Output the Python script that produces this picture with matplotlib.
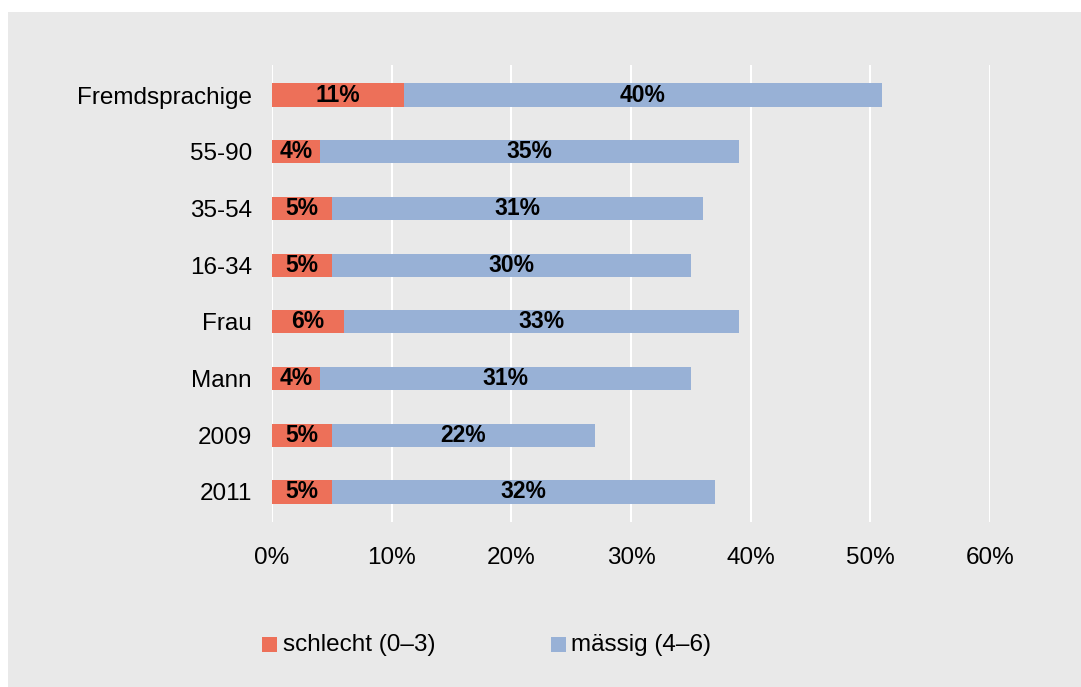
import matplotlib.pyplot as plt
from matplotlib.patches import Rectangle

# Daten (von unten nach oben)
kategorien = ['2011', '2009', 'Mann', 'Frau', '16-34', '35-54', '55-90', 'Fremdsprachige']
schlecht = [5, 5, 4, 6, 5, 5, 4, 11]
maessig = [32, 22, 31, 33, 30, 31, 35, 40]
x_ticks = [0, 10, 20, 30, 40, 50, 60]
legende = ['schlecht (0–3)', 'mässig (4–6)']

rot = '#ED7059'
blau = '#98B1D6'
hintergrund = '#E9E9E9'

plt.rcParams['font.family'] = ['Liberation Sans', 'DejaVu Sans']

fig = plt.figure(figsize=(10.81, 6.87), dpi=100)
fig.patch.set_facecolor('white')
fig.patches.append(Rectangle((8 / 1081, 0), 1, 1 - 12 / 687, transform=fig.transFigure,
                             facecolor=hintergrund, edgecolor='none', zorder=-10))

ax = fig.add_axes([272 / 1081, 1 - 522 / 687, 718 / 1081, 457 / 687])
ax.set_facecolor(hintergrund)

pos = list(range(len(kategorien)))
ax.barh(pos, schlecht, height=0.41, color=rot, zorder=3)
ax.barh(pos, maessig, left=schlecht, height=0.41, color=blau, zorder=3)

# Beschriftungen in den Balken
for i in pos:
    ax.text(schlecht[i] / 2, i, f'{schlecht[i]}%', ha='center', va='center',
            fontsize=16.5, fontweight='bold', zorder=4)
    ax.text(schlecht[i] + maessig[i] / 2, i, f'{maessig[i]}%', ha='center', va='center',
            fontsize=16.5, fontweight='bold', zorder=4)

ax.set_xlim(0, 60)
ax.set_ylim(-0.53, len(kategorien) - 0.47)
ax.set_xticks(x_ticks)
ax.set_xticklabels([f'{t}%' for t in x_ticks], fontsize=17.5)
ax.set_yticks(pos)
ax.set_yticklabels(kategorien, fontsize=17.5)
ax.tick_params(axis='both', length=0)
ax.tick_params(axis='y', pad=14.5)
ax.tick_params(axis='x', pad=18)
ax.grid(axis='x', color='white', linewidth=1.5, zorder=0)
for s in ax.spines.values():
    s.set_visible(False)

# Legende
fig.patches.append(Rectangle((262 / 1081, 1 - 652 / 687), 15 / 1081, 15 / 687,
                             transform=fig.transFigure, facecolor=rot, edgecolor='none'))
fig.text(283 / 1081, 1 - 645 / 687, legende[0], fontsize=17.5, va='center', ha='left')
fig.patches.append(Rectangle((551 / 1081, 1 - 652 / 687), 15 / 1081, 15 / 687,
                             transform=fig.transFigure, facecolor=blau, edgecolor='none'))
fig.text(571 / 1081, 1 - 645 / 687, legende[1], fontsize=17.5, va='center', ha='left')

fig.savefig('out.png', dpi=100)
